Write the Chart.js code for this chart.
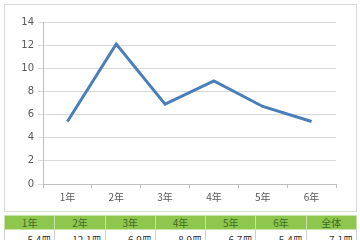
<!DOCTYPE html>
<html>
<head>
<meta charset="utf-8">
<script src="https://cdn.jsdelivr.net/npm/chart.js@4/dist/chart.umd.min.js"></script>
<style>
body{margin:0;width:360px;height:240px;overflow:hidden;background:#fff;font-family:"Noto Sans CJK JP","DejaVu Sans",sans-serif}
#box{position:absolute;left:4px;top:4px;width:351px;height:206px;border:1px solid #d9d9d9}
#tbl{position:absolute;left:4px;top:215px;width:353px;border-collapse:collapse;table-layout:fixed;font-size:10px}
#tbl th{background:#8fc64e;color:#3f6e22;font-weight:normal;height:13px;padding:0;border:1px solid #c9e3ad;text-align:center;line-height:13px}
#tbl td{height:14px;padding:0 3px 0 0;border:1px solid #d0d0d0;text-align:right;color:#333;line-height:20px;vertical-align:top}
</style>
</head>
<body>
<div id="box"><canvas id="myChart" width="351" height="206"></canvas></div>
<table id="tbl"><tr id="hd"></tr><tr id="vals"></tr></table>
<script>
var grades = ["1年","2年","3年","4年","5年","6年"]
var books = [5.4,12.1,6.9,8.9,6.7,5.4]
var tableHeads = ["1年","2年","3年","4年","5年","6年","全体"]
var tableVals = ["5.4冊","12.1冊","6.9冊","8.9冊","6.7冊","5.4冊","7.1冊"]

var hd = "", vs = ""
for(var i=0;i<tableHeads.length;i++){
	hd += "<th>"+tableHeads[i]+"</th>"
	vs += "<td>"+tableVals[i]+"</td>"
}
document.getElementById("hd").innerHTML = hd
document.getElementById("vals").innerHTML = vs

var ctx = document.getElementById("myChart").getContext('2d')
var chart = new Chart(ctx,{
	type:'line',
	data:{
		labels:grades,
		datasets:[{
			data:books,
			borderColor:"#4a7ebb",
			borderWidth:3,
			pointRadius:0,
			tension:0,
			fill:false
		}]
	},
	options:{
		responsive:false,
		animation:false,
		layout:{padding:{top:17,right:20,bottom:0,left:0}},
		plugins:{legend:{display:false},tooltip:{enabled:false}},
		scales:{
			x:{
				offset:true,
				grid:{offset:true,drawOnChartArea:false,color:"#bfbfbf",tickLength:4},
				border:{color:"#bfbfbf"},
				ticks:{color:"#595959",font:{size:10,family:"'Noto Sans CJK JP'"},padding:3},
				afterFit:function(s){s.height=27}
			},
			y:{
				min:0,max:14,
				grid:{color:"#d9d9d9",tickLength:5},
				border:{color:"#bfbfbf"},
				ticks:{stepSize:2,color:"#595959",font:{size:10,family:"'DejaVu Sans'"},padding:4},
				afterFit:function(s){s.width=38}
			}
		}
	}
})
</script>
</body>
</html>
